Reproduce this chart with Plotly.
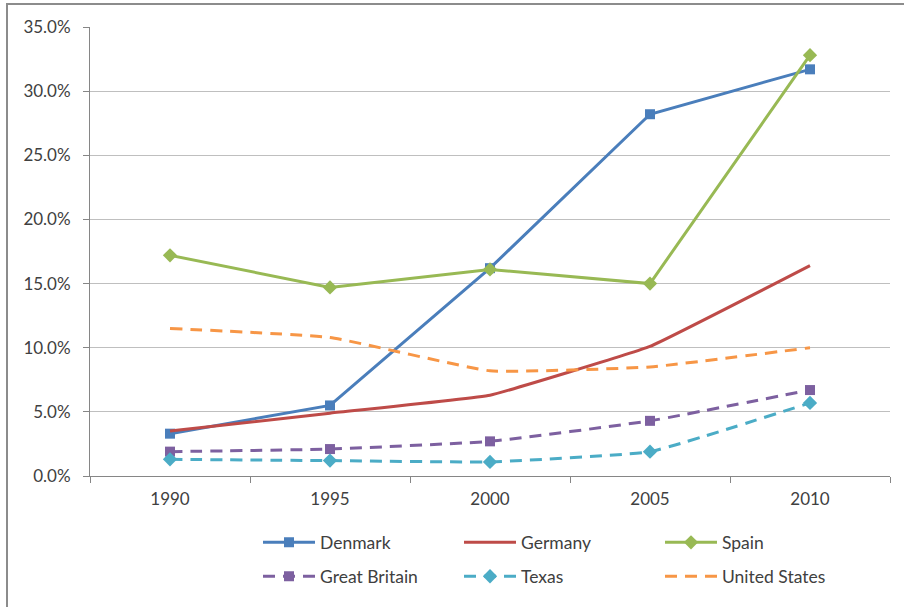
import plotly.graph_objects as go

years = ["1990", "1995", "2000", "2005", "2010"]
denmark = [0.033, 0.055, 0.162, 0.282, 0.317]
germany = [0.035, 0.049, 0.063, 0.101, 0.164]
spain = [0.172, 0.147, 0.161, 0.150, 0.328]
great_britain = [0.019, 0.021, 0.027, 0.043, 0.067]
texas = [0.013, 0.012, 0.011, 0.019, 0.057]
united_states = [0.115, 0.108, 0.082, 0.085, 0.100]
y_ticks = [0, 0.05, 0.10, 0.15, 0.20, 0.25, 0.30, 0.35]

W, H = 904, 607
L, R, T, B = 90, 14, 27, 130.5
pw, ph = W - L - R, H - T - B

def px_x(x):
    return (x - L) / pw

def px_y(y):
    return (H - B - y) / ph

fig = go.Figure()

def add(name, vals, color, dash="solid", symbol=None, shape="linear", legend="legend", smoothing=0.35):
    mode = "lines+markers" if symbol else "lines"
    fig.add_trace(go.Scatter(
        x=years, y=vals, name=name, mode=mode,
        line=dict(color=color, width=3, dash=dash, shape=shape, smoothing=smoothing),
        marker=dict(symbol=symbol or "circle", size=10 if symbol == "square" else 11, color=color),
        legend=legend,
    ))

dash = "12px,8px"
add("Denmark", denmark, "#4A7EBB", symbol="square")
add("Germany", germany, "#BE4B48", shape="spline", smoothing=0.25)
add("Spain", spain, "#98B954", symbol="diamond")
add("Great Britain", great_britain, "#7D60A0", dash=dash, symbol="square", shape="spline", legend="legend2")
add("Texas", texas, "#4BACC6", dash=dash, symbol="diamond", shape="spline", legend="legend2")
add("United States", united_states, "#F79646", dash=dash, shape="spline", legend="legend2")

font = dict(family="Lato, 'Open Sans', sans-serif", size=17, color="#404040")
leg_font = dict(family="Lato, 'Open Sans', sans-serif", size=17.5, color="#404040")
leg_common = dict(orientation="h", xanchor="left", yanchor="middle", entrywidth=134,
                  entrywidthmode="pixels", itemwidth=52, font=leg_font, bgcolor="rgba(0,0,0,0)",
                  traceorder="normal")

fig.update_layout(
    width=W, height=H,
    margin=dict(l=L, r=R, t=T, b=B, pad=0),
    paper_bgcolor="white", plot_bgcolor="white",
    font=font,
    legend=dict(x=px_x(258), y=px_y(543), **leg_common),
    legend2=dict(x=px_x(258), y=px_y(577), **leg_common),
    xaxis=dict(type="category", range=[-0.5, 4.5], tickson="boundaries", ticks="outside",
               ticklen=6, tickcolor="#868686", showline=True, linecolor="#868686",
               linewidth=1, showgrid=False, tickfont=font, fixedrange=True,
               ticklabelstandoff=8),
    yaxis=dict(range=[0, 0.35], tickvals=y_ticks, tickformat=".1%", ticks="outside",
               ticklen=6, tickcolor="#868686", showline=True, linecolor="#868686",
               linewidth=1, showgrid=True, gridcolor="#BFBFBF", gridwidth=1,
               zeroline=False, tickfont=font, ticklabelstandoff=9),
    shapes=[dict(type="rect", xref="paper", yref="paper",
                 x0=px_x(7), x1=px_x(915), y0=px_y(620), y1=px_y(4),
                 line=dict(color="#8C8C8C", width=2), layer="below")],
)

fig.write_html("out.html")
